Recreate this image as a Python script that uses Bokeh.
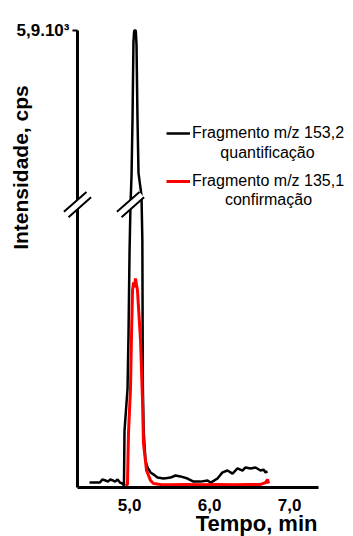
import numpy as np
from bokeh.plotting import figure
from bokeh.models import (ColumnDataSource, Range1d, FixedTicker, Label, Legend,
                          LegendItem, LinearInterpolator)
from bokeh.transform import transform
from bokeh.embed import file_html
from bokeh.resources import INLINE

# ---------------- data ----------------
time_153 = [4.50, 4.56, 4.63, 4.66, 4.70, 4.73, 4.76, 4.79, 4.82, 4.85,
            4.88, 4.91, 4.93, 4.937, 4.975, 4.987, 5.000, 5.012, 5.025, 5.037,
            5.049, 5.058, 5.078, 5.087, 5.099, 5.112, 5.149, 5.160, 5.166, 5.176,
            5.199, 5.224, 5.262, 5.30, 5.349, 5.424, 5.47, 5.512, 5.574, 5.636,
            5.724, 5.799, 5.886, 5.974, 6.011, 6.05, 6.098, 6.161, 6.223, 6.286,
            6.348, 6.411, 6.448, 6.511, 6.573, 6.636, 6.673, 6.698, 6.723]
int_153 = [21, 21, 21, 34, 30, 25, 34, 30, 25, 34,
           21, 17, 8, 240, 420, 650, 1000, 1200, 2000, 3500,
           5600, 5900, 5900, 5500, 3550, 2050, 1450, 1050, 430, 240,
           115, 85, 64, 55, 42, 38, 40, 42, 51, 47,
           38, 25, 25, 30, 21, 28, 38, 64, 72, 59,
           81, 72, 85, 81, 85, 72, 76, 64, 68]

time_135 = [4.95, 4.974, 4.987, 5.012, 5.024, 5.037, 5.050, 5.062, 5.074, 5.087,
            5.099, 5.137, 5.162, 5.174, 5.212, 5.262, 5.299, 5.387, 5.5, 5.7,
            5.9, 6.1, 6.3, 6.5, 6.636, 6.698, 6.723, 6.736]
int_135 = [8, 13, 233, 420, 636, 836, 870, 850, 887, 860,
           836, 624, 369, 187, 72, 30, 17, 13, 12, 13,
           12, 13, 12, 13, 13, 21, 34, 17]

series_labels = ["Fragmento m/z 153,2", "Fragmento m/z 135,1"]
series_sub = ["quantificação", "confirmação"]
x_ticks = [5.0, 6.0, 7.0]
x_tick_labels = ["5,0", "6,0", "7,0"]
x_axis_span = (4.35, 7.36)
y_max = 5900
y_max_label = "5,9.10³"
y_break = 1200          # intensity where the axis is broken
x_title = "Tempo, min"
y_title = "Intensidade, cps"

# ---------------- broken-axis scale ----------------
BREAK_FRAC = 0.619      # fraction of the axis height used by 0..y_break
yscale = LinearInterpolator(x=[0, y_break, y_max], y=[0, BREAK_FRAC, 1.0], clip=True)

BOLD = "Liberation Sans"

# the frame fills the whole canvas; the axes sit at fixed data locations
p = figure(width=353, height=536, output_backend="svg", toolbar_location=None,
           x_range=Range1d(3.3883, 7.797), y_range=Range1d(-0.1072, 1.0656),
           min_border_left=0, min_border_right=0, min_border_top=0,
           min_border_bottom=0)
p.outline_line_color = None
p.xgrid.visible = False
p.ygrid.visible = False
p.background_fill_color = "white"
p.border_fill_color = "white"

src153 = ColumnDataSource(dict(t=time_153, y=int_153))
src135 = ColumnDataSource(dict(t=time_135, y=int_135))
r153 = p.line("t", transform("y", yscale), source=src153, line_color="black",
              line_width=2.5)
r135 = p.line("t", transform("y", yscale), source=src135, line_color="#ff0000",
              line_width=3)

# axis break marks (on the y axis and on the peak)
brk = ColumnDataSource(dict(x=[x_axis_span[0], 5.012], y=[BREAK_FRAC, BREAK_FRAC]))
p.rect("x", "y", source=brk, width=30, height=7, width_units="screen",
       height_units="screen", angle=0.72, fill_color="white", line_color="black",
       line_width=2, line_dash="30 7", level="overlay")

# axes
xa = p.xaxis[0]
xa.fixed_location = 0
xa.bounds = x_axis_span
xa.ticker = FixedTicker(ticks=x_ticks)
xa.major_label_overrides = {t: l for t, l in zip(x_ticks, x_tick_labels)}
xa.major_tick_line_color = None
xa.minor_tick_line_color = None
xa.axis_line_width = 3
xa.major_label_standoff = 5
xa.major_label_text_font = BOLD
xa.major_label_text_font_style = "bold"
xa.major_label_text_font_size = "17px"
xa.major_label_text_color = "black"

ya = p.yaxis[0]
ya.fixed_location = x_axis_span[0]
ya.bounds = (0, 1)
ya.ticker = FixedTicker(ticks=[1.0])
ya.major_label_overrides = {1.0: y_max_label}
ya.major_tick_out = 5
ya.major_tick_in = 0
ya.major_tick_line_width = 2
ya.minor_tick_line_color = None
ya.axis_line_width = 3
ya.major_label_standoff = 3
ya.major_label_text_font = BOLD
ya.major_label_text_font_style = "bold"
ya.major_label_text_font_size = "17px"
ya.major_label_text_color = "black"

# axis titles
p.add_layout(Label(x=3.638, y=0.700, text=y_title, angle=np.pi / 2,
                   text_align="center", text_baseline="middle",
                   text_font=BOLD, text_font_style="bold", text_font_size="21px",
                   text_color="black"))
p.add_layout(Label(x=7.347, y=-0.079, text=x_title, text_align="right",
                   text_baseline="middle", text_font=BOLD, text_font_style="bold",
                   text_font_size="22px", text_color="black"))

# legend
legend = Legend(items=[LegendItem(label=series_labels[0], renderers=[r153]),
                       LegendItem(label=series_labels[1], renderers=[r135])],
                location=(166, 345), glyph_width=24, glyph_height=20,
                label_height=20, label_standoff=2, spacing=28, padding=0,
                margin=0, border_line_color=None, background_fill_alpha=0,
                label_text_font=BOLD, label_text_font_size="16px",
                label_text_color="black")
p.add_layout(legend)
p.add_layout(Label(x=6.723, y=0.733, text=series_sub[0], text_align="center",
                   text_baseline="middle", text_font=BOLD, text_font_size="16px",
                   text_color="black"))
p.add_layout(Label(x=6.735, y=0.630, text=series_sub[1], text_align="center",
                   text_baseline="middle", text_font=BOLD, text_font_size="16px",
                   text_color="black"))

open("out.html", "w").write(file_html(p, INLINE))
